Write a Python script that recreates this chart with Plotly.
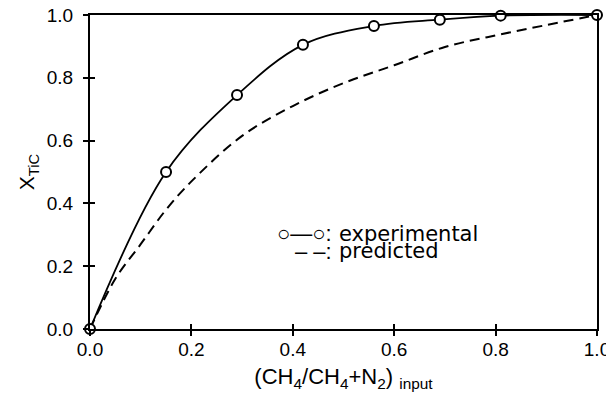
import plotly.graph_objects as go

# Experimental data
exp_x = [0.0, 0.15, 0.29, 0.42, 0.56, 0.69, 0.81, 1.0]
exp_y = [0.0, 0.50, 0.745, 0.905, 0.965, 0.985, 0.998, 1.0]

# Predicted curve
pred_x = [0.0, 0.05, 0.1, 0.15, 0.2, 0.3, 0.4, 0.5, 0.6, 0.7, 0.8, 0.9, 1.0]
pred_y = [0.0, 0.16, 0.27, 0.38, 0.47, 0.615, 0.71, 0.783, 0.84, 0.898, 0.935, 0.968, 1.0]

tick_vals = [0.0, 0.2, 0.4, 0.6, 0.8, 1.0]
tick_text = ["0.0", "0.2", "0.4", "0.6", "0.8", "1.0"]

FONT = "Liberation Sans, Arial, sans-serif"
LEG_FONT = "DejaVu Sans, sans-serif"

fig = go.Figure()
fig.add_trace(go.Scatter(
    x=pred_x, y=pred_y, mode="lines",
    line=dict(color="black", width=2, dash="10px,6px", shape="spline"),
    showlegend=False, cliponaxis=False,
))
fig.add_trace(go.Scatter(
    x=exp_x, y=exp_y, mode="lines+markers",
    line=dict(color="black", width=1.8, shape="spline"),
    marker=dict(symbol="circle", size=10, color="white",
                line=dict(color="black", width=2)),
    showlegend=False, cliponaxis=False,
))
# invisible trace to activate overlay axes (inward half of crossing ticks)
fig.add_trace(go.Scatter(x=[None], y=[None], xaxis="x2", yaxis="y2",
                         showlegend=False, hoverinfo="skip"))

axis_common = dict(range=[0, 1], tickvals=tick_vals, ticktext=tick_text,
                   showgrid=False, zeroline=False, showline=True,
                   linecolor="black", linewidth=2, mirror=True, automargin=False,
                   ticks="outside", ticklen=5, tickwidth=1.8, tickcolor="black",
                   ticklabeloverflow="allow",
                   tickfont=dict(family=FONT, size=19, color="black"))

# page body has an 8px margin, so the figure is sized/margined to compensate
fig.update_layout(
    width=606, height=388,
    margin=dict(l=82, r=17, t=7, b=67),
    paper_bgcolor="white", plot_bgcolor="white",
    font=dict(family=FONT, color="black"),
    xaxis=dict(**axis_common,
               title=dict(text="(CH<sub>4</sub>/CH<sub>4</sub>+N<sub>2</sub>) <sub>input</sub>",
                          font=dict(family=FONT, size=22, color="black"), standoff=10),
               ticklabelstandoff=-3),
    yaxis=dict(**axis_common,
               title=dict(text="X<sub>TiC</sub>",
                          font=dict(family=FONT, size=21, color="black"), standoff=6),
               ticklabelstandoff=6),
    xaxis2=dict(range=[0, 1], overlaying="x", tickvals=tick_vals, ticks="inside",
                ticklen=5, tickwidth=1.8, tickcolor="black", showticklabels=False,
                showgrid=False, zeroline=False, showline=False, side="bottom"),
    yaxis2=dict(range=[0, 1], overlaying="y", tickvals=tick_vals, ticks="inside",
                ticklen=5, tickwidth=1.8, tickcolor="black", showticklabels=False,
                showgrid=False, zeroline=False, showline=False, side="left"),
)

xc = 0.482  # colon position in paper coords
for sym, label, yy in [("○—○:", "experimental", 0.303), ("– –:", "predicted", 0.248)]:
    fig.add_annotation(xref="paper", yref="paper", x=xc, y=yy, xanchor="right",
                       yanchor="middle", showarrow=False, text=sym,
                       font=dict(family=FONT, size=22, color="black"))
    fig.add_annotation(xref="paper", yref="paper", x=xc + 0.006, y=yy, xanchor="left",
                       yanchor="middle", showarrow=False, text=label,
                       font=dict(family=LEG_FONT, size=21, color="black"))

fig.write_html("out.html")
